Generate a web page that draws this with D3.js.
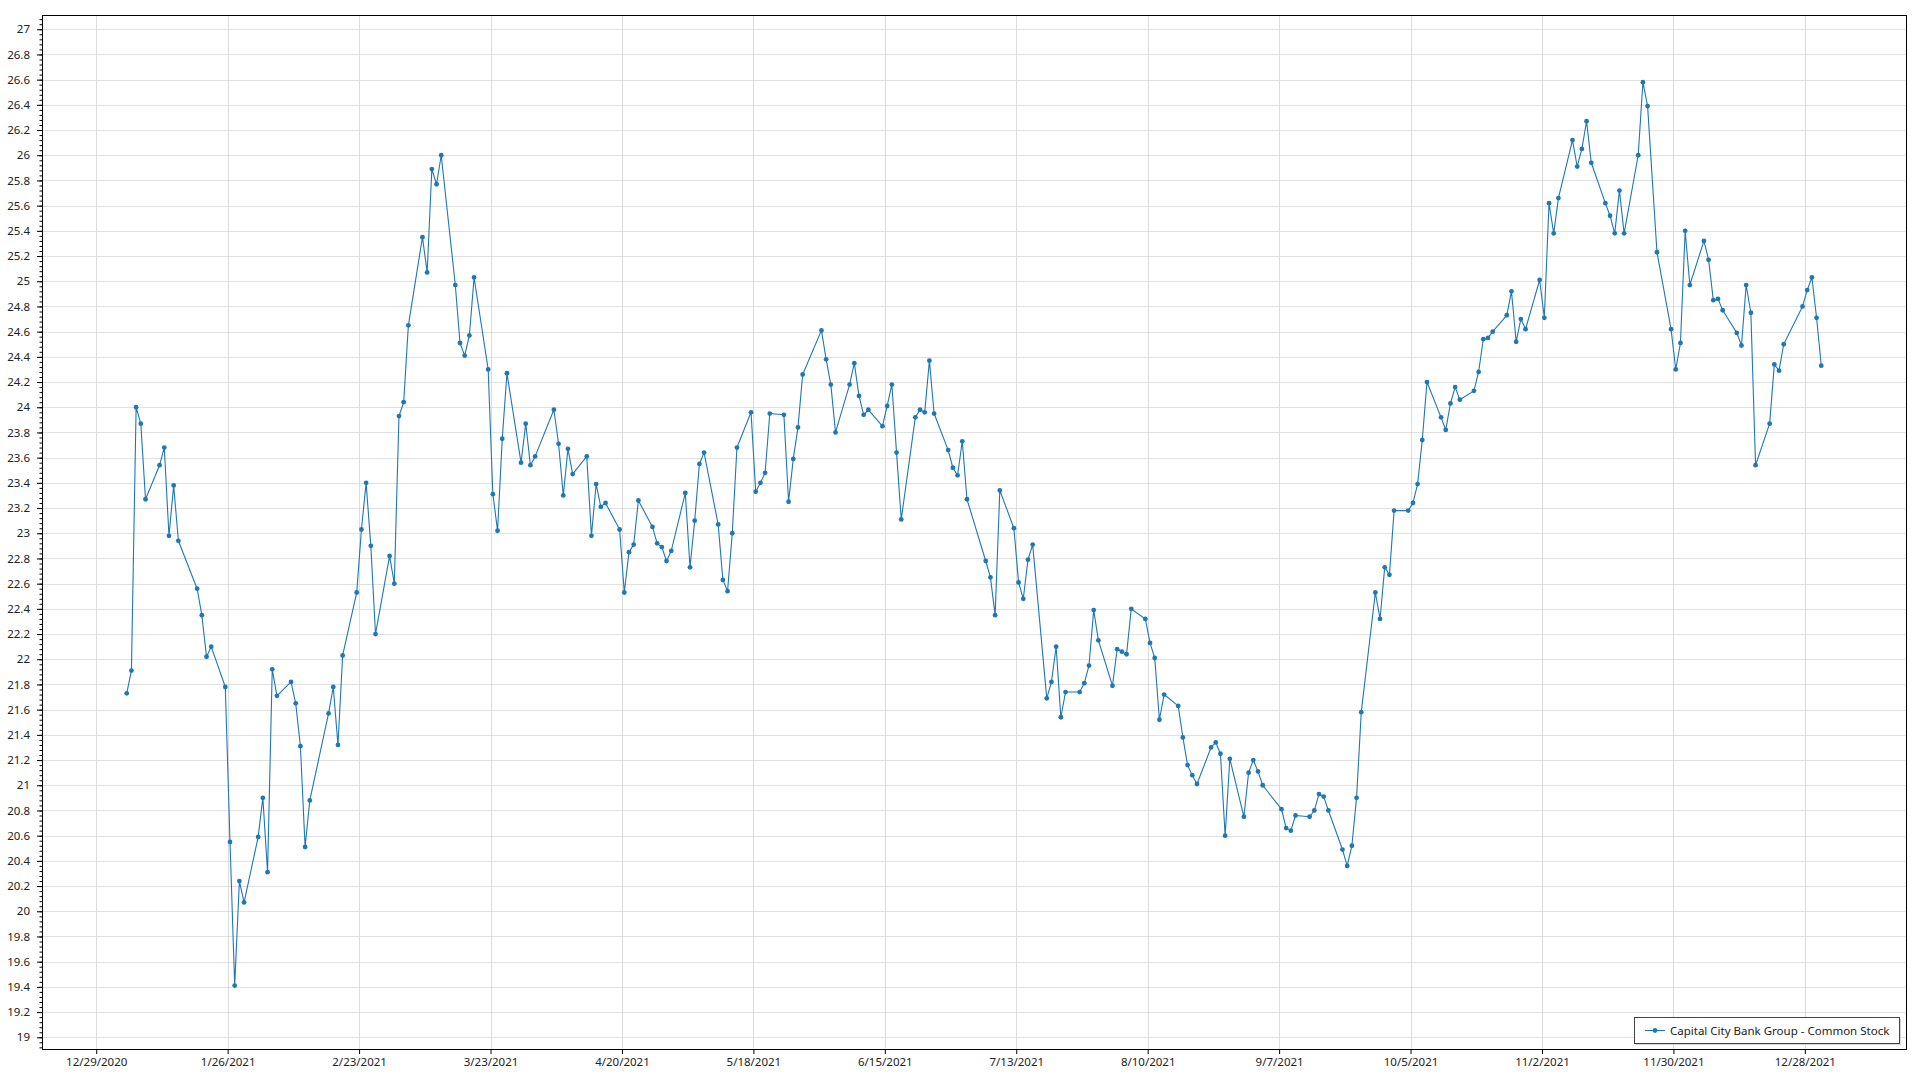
<!DOCTYPE html>
<html><head><meta charset="utf-8">
<script src="https://cdn.jsdelivr.net/npm/d3@7"></script>
<style>
html,body{margin:0;padding:0;background:#fff;}
svg{display:block;}
text{font-family:"Segoe UI","Noto Sans","Open Sans",sans-serif;}
</style>
</head><body>
<svg id="chart" width="1920" height="1080"></svg>
<script>
// ---- data ----
const seriesName = "Capital City Bank Group - Common Stock";
const monthIndex = [0,1,2,3,4,5,6,7,8,9,10,11];
const tradingDays = [
  [4,5,6,7,8,11,12,13,14,15,19,20,21,22,25,26,27,28,29],
  [1,2,3,4,5,8,9,10,11,12,16,17,18,19,22,23,24,25,26],
  [1,2,3,4,5,8,9,10,11,12,15,16,17,18,19,22,23,24,25,26,29,30,31],
  [1,5,6,7,8,9,12,13,14,15,16,19,20,21,22,23,26,27,28,29,30],
  [3,4,5,6,7,10,11,12,13,14,17,18,19,20,21,24,25,26,27,28],
  [1,2,3,4,7,8,9,10,11,14,15,16,17,18,21,22,23,24,25,28,29,30],
  [1,2,6,7,8,9,12,13,14,15,16,19,20,21,22,23,26,27,28,29,30],
  [2,3,4,5,6,9,10,11,12,13,16,17,18,19,20,23,24,25,26,27,30,31],
  [1,2,3,7,8,9,10,13,14,15,16,17,20,21,22,23,24,27,28,29,30],
  [1,4,5,6,7,8,11,12,13,14,15,18,19,20,21,22,25,26,27,28,29],
  [1,2,3,4,5,8,9,10,11,12,15,16,17,18,19,22,23,24,26,29,30],
  [1,2,3,6,7,8,9,10,13,14,15,16,17,20,21,22,23,27,28,29,30,31]
];
const prices = [
  // Jan
  21.73,21.91,24.00,23.87,23.27,23.54,23.68,22.98,23.38,22.94,22.56,22.35,22.02,22.10,21.78,20.55,19.41,20.24,20.07,
  // Feb
  20.59,20.90,20.31,21.92,21.71,21.82,21.65,21.31,20.51,20.88,21.57,21.78,21.32,22.03,22.53,23.03,23.40,22.90,22.20,
  // Mar
  22.82,22.60,23.93,24.04,24.65,25.35,25.07,25.89,25.77,26.00,24.97,24.51,24.41,24.57,25.03,24.30,23.31,23.02,23.75,24.27,23.56,23.87,23.54,
  // Apr
  23.61,23.98,23.71,23.30,23.67,23.47,23.61,22.98,23.39,23.21,23.24,23.03,22.53,22.85,22.91,23.26,23.05,22.92,22.89,22.78,22.86,
  // May
  23.32,22.73,23.10,23.55,23.64,23.07,22.63,22.54,23.00,23.68,23.96,23.33,23.40,23.48,23.95,23.94,23.25,23.59,23.84,24.26,
  // Jun
  24.61,24.38,24.18,23.80,24.18,24.35,24.09,23.94,23.98,23.85,24.01,24.18,23.64,23.11,23.92,23.98,23.96,24.37,23.95,23.66,23.52,23.46,
  // Jul
  23.73,23.27,22.78,22.65,22.35,23.34,23.04,22.61,22.48,22.79,22.91,21.69,21.82,22.10,21.54,21.74,21.74,21.81,21.95,22.39,22.15,
  // Aug
  21.79,22.08,22.06,22.04,22.40,22.32,22.13,22.01,21.52,21.72,21.63,21.38,21.16,21.08,21.01,21.30,21.34,21.25,20.60,21.21,20.75,21.10,
  // Sep
  21.20,21.11,21.00,20.81,20.66,20.64,20.76,20.75,20.80,20.93,20.91,20.80,20.49,20.36,20.52,20.90,21.58,22.53,22.32,22.73,22.67,
  // Oct
  23.18,23.18,23.24,23.39,23.74,24.20,23.92,23.82,24.03,24.16,24.06,24.13,24.28,24.54,24.55,24.60,24.73,24.92,24.52,24.70,24.62,
  // Nov
  25.01,24.71,25.62,25.38,25.66,26.12,25.91,26.05,26.27,25.94,25.62,25.52,25.38,25.72,25.38,26.00,26.58,26.39,25.23,24.62,24.30,
  // Dec
  24.51,25.40,24.97,25.32,25.17,24.85,24.86,24.77,24.59,24.49,24.97,24.75,23.54,23.87,24.34,24.29,24.50,24.80,24.93,25.03,24.71,24.33
];
const xTickLabels = ["12/29/2020","1/26/2021","2/23/2021","3/23/2021","4/20/2021","5/18/2021","6/15/2021",
  "7/13/2021","8/10/2021","9/7/2021","10/5/2021","11/2/2021","11/30/2021","12/28/2021"];
const yTicks = [19,19.2,19.4,19.6,19.8,20,20.2,20.4,20.6,20.8,21,21.2,21.4,21.6,21.8,22,22.2,22.4,22.6,22.8,
  23,23.2,23.4,23.6,23.8,24,24.2,24.4,24.6,24.8,25,25.2,25.4,25.6,25.8,26,26.2,26.4,26.6,26.8,27];
const yDomain = [18.907, 27.113];

// ---- build ----
// quotes are stamped at midday of each trading day
const dates = [];
monthIndex.forEach(m => tradingDays[m].forEach(d => dates.push(new Date(Date.UTC(2021, m, d, 12)))));
const data = dates.map((d, i) => ({date: d, value: prices[i]}));
const parseTick = d3.utcParse("%m/%d/%Y");
const xTickDates = xTickLabels.map(s => parseTick(s));

const P = {left: 42, top: 15, right: 1906, bottom: 1049};
const color = "#1f77b4";
const svg = d3.select("#chart");
svg.append("rect").attr("width",1920).attr("height",1080).attr("fill","#fff");

const first = dates[0], last = dates[dates.length - 1];
const pad = (last - first) * 0.05;
const x = d3.scaleUtc().domain([new Date(+first - pad), new Date(+last + pad)]).range([P.left, P.right]);
const y = d3.scaleLinear().domain(yDomain).range([P.bottom, P.top]);

// gridlines
const grid = svg.append("g");
grid.selectAll("line.h").data(yTicks).join("line")
  .attr("x1", P.left).attr("x2", P.right)
  .attr("y1", d => Math.round(y(d)) + 0.5).attr("y2", d => Math.round(y(d)) + 0.5)
  .attr("stroke", "#e1e1e1").attr("stroke-width", 1);
grid.selectAll("line.v").data(xTickDates).join("line")
  .attr("y1", P.top).attr("y2", P.bottom)
  .attr("x1", d => Math.round(x(d)) + 0.5).attr("x2", d => Math.round(x(d)) + 0.5)
  .attr("stroke", "#dcdcdc").attr("stroke-width", 1);

// axes
const yAxis = svg.append("g").attr("transform", `translate(${P.left},0)`)
  .call(d3.axisLeft(y).tickValues(yTicks).tickSize(5).tickPadding(7)
    .tickFormat(d => String(+d.toFixed(1))));
const minorY = d3.range(0, 206).map(i => 18.92 + i * 0.04).filter(v => v > yDomain[0] && v < yDomain[1]);
svg.append("g").attr("transform", `translate(${P.left},0)`)
  .call(d3.axisLeft(y).tickValues(minorY).tickSize(2.5).tickFormat(""))
  .call(g => g.select(".domain").remove());
const xAxis = svg.append("g").attr("transform", `translate(0,${P.bottom})`)
  .call(d3.axisBottom(x).tickValues(xTickDates).tickSize(5).tickPadding(4)
    .tickFormat(d3.utcFormat("%-m/%-d/%Y")));
[yAxis, xAxis].forEach(g => {
  g.select(".domain").remove();
  g.selectAll("text").attr("font-size", 11.5).attr("fill", "#222")
    .attr("font-family", '"Segoe UI","Noto Sans","Open Sans",sans-serif');
  g.selectAll("line").attr("stroke", "#000");
});

// plot border
svg.append("rect").attr("x", P.left + 0.5).attr("y", P.top + 0.5)
  .attr("width", P.right - P.left).attr("height", P.bottom - P.top)
  .attr("fill", "none").attr("stroke", "#000").attr("stroke-width", 1);

// series
const line = d3.line().x(d => x(d.date)).y(d => y(d.value));
svg.append("path").datum(data).attr("d", line)
  .attr("fill", "none").attr("stroke", color).attr("stroke-width", 1.1).attr("stroke-linejoin", "round");
svg.append("g").selectAll("circle").data(data).join("circle")
  .attr("cx", d => x(d.date)).attr("cy", d => y(d.value)).attr("r", 2.4).attr("fill", color);

// legend
const L = {x: 1634, y: 1017, w: 265, h: 26};
const lg = svg.append("g");
lg.append("rect").attr("x", L.x + 2).attr("y", L.y + 2).attr("width", L.w).attr("height", L.h)
  .attr("fill", "#bbb").attr("opacity", 0.6);
lg.append("rect").attr("x", L.x + 0.5).attr("y", L.y + 0.5).attr("width", L.w).attr("height", L.h)
  .attr("fill", "#fff").attr("stroke", "#444").attr("stroke-width", 1);
lg.append("line").attr("x1", L.x + 11).attr("x2", L.x + 31).attr("y1", L.y + 13.5).attr("y2", L.y + 13.5)
  .attr("stroke", color).attr("stroke-width", 1.1);
lg.append("circle").attr("cx", L.x + 21).attr("cy", L.y + 13.5).attr("r", 2.4).attr("fill", color);
lg.append("text").attr("x", L.x + 36).attr("y", L.y + 17.5).attr("font-size", 11.5).attr("fill", "#222")
  .text(seriesName);
</script>
</body></html>
